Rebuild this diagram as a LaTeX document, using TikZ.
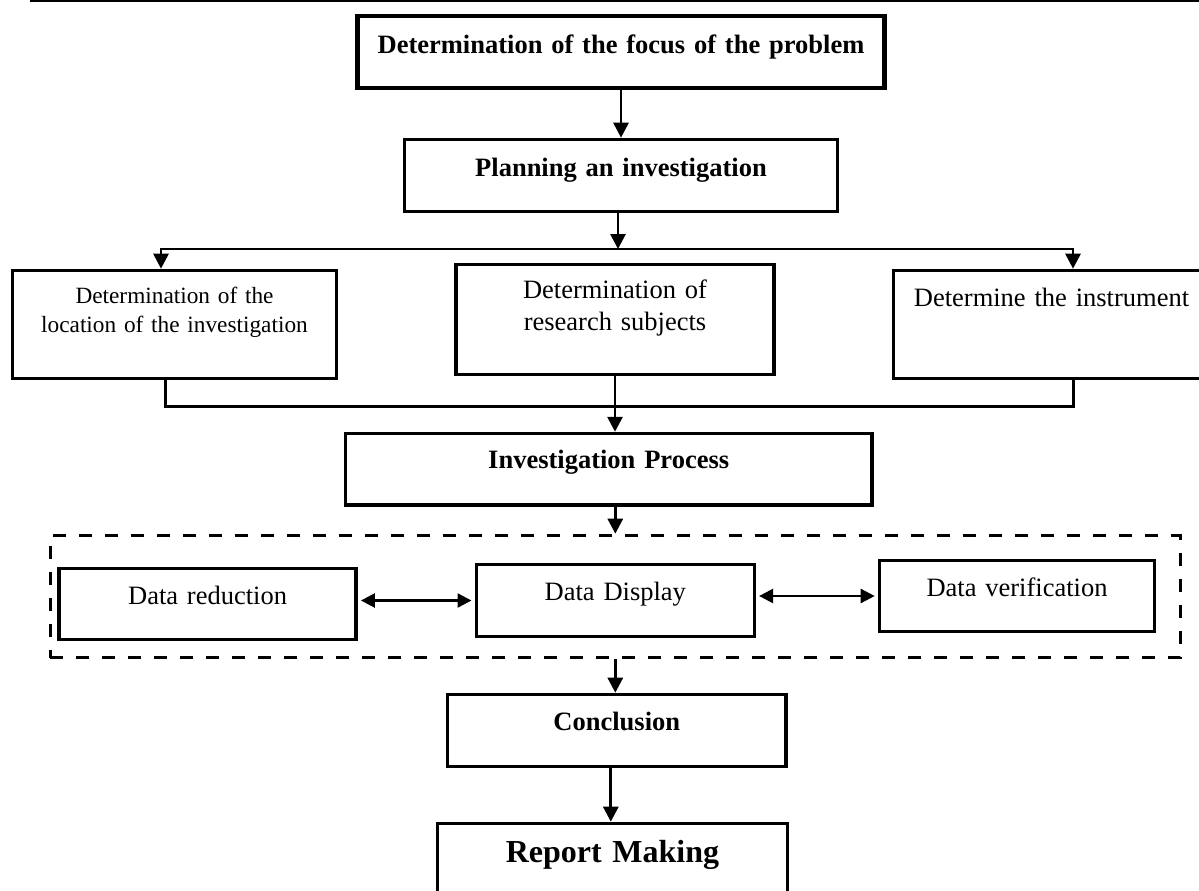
\documentclass[tikz,border=0pt]{standalone}
\usepackage{fontspec}
\setmainfont{Liberation Serif}
\usepackage{tikz}
\usetikzlibrary{arrows.meta}
\usetikzlibrary{shapes.geometric, arrows, positioning}
\usetikzlibrary{calc}
\tikzstyle{arrow} = [line width=2.8pt,-{Triangle[length=15pt,width=15pt]}]
\tikzstyle{dblarrow} = [line width=2.4pt,{Triangle[length=14pt,width=14pt]}-{Triangle[length=14pt,width=14pt]}, shorten <=3pt, shorten >=3pt]
\tikzstyle{link} = [line width=3pt]
\tikzstyle{stage} = [rectangle, draw=black, line width=3.6pt, inner sep=0pt, align=center, font=\fontsize{26.5}{32}\selectfont]
\tikzstyle{bigstage} = [stage, font=\fontsize{26.5}{32}\selectfont\bfseries]
\tikzset{
	groupbox/.style = {rectangle, draw=black, line width=3.6pt,
		dash pattern=on 13pt off 13pt, inner sep=0pt}
}

\begin{document}
\begin{tikzpicture}[x=1pt, y=-1pt]
\useasboundingbox (0,0) rectangle (1199,891);
% page rule
\draw [line width=2.4pt] (30,1) -- (1199,1);
%----------------------------------------------------------------------------
% Placement of flowchart nodes
\node (focus) [bigstage, line width=4.4pt, text width=527pt, text height=37pt, text depth=35pt] at (621,52)
{Determination of the focus of the problem};

\node (plan) [bigstage, below of = focus, node distance = 123.5pt, text width=433pt, text height=36.5pt, text depth=35.5pt]
{Planning an investigation};

\node (subj) [stage, below of = plan, node distance = 144pt, xshift=-6pt, text width=318pt, text height=33.5pt, text depth=76.5pt]
{Determination of\\research subjects};

\node (locat) [stage, left of = subj, node distance = 440.5pt, yshift=-5pt, text width=324pt, text height=32.5pt, text depth=75.5pt, font=\fontsize{23.3}{29.5}\selectfont]
{Determination of the\\location of the investigation};

\node (instr) [stage, right of = subj, node distance = 436.5pt, yshift=-5pt, text width=316pt, text height=35.5pt, text depth=72.5pt]
{Determine the instrument};

\node (invest) [bigstage, below of = subj, node distance = 149.8pt, xshift=-6.3pt, text width=526.5pt, text height=34.5pt, text depth=37pt]
{Investigation Process};

\node (display) [stage, below of = invest, node distance = 131.2pt, xshift=6.6pt, text width=278pt, text height=35.5pt, text depth=36.5pt]
{Data Display};

\node (reduc) [stage, left of = display, node distance = 407.7pt, yshift=-3.5pt, text width=297pt, text height=35.5pt, text depth=35.5pt]
{Data reduction};

\node (verif) [stage, right of = display, node distance = 401.7pt, yshift=4.5pt, text width=275pt, text height=35.5pt, text depth=35.5pt]
{Data verification};

\node (dataGroup) [groupbox, minimum width=1130pt, minimum height=122pt] at ([yshift=4pt]display.center) {};

\node (concl) [bigstage, below of = display, node distance = 130pt, xshift=1.5pt, text width=338.7pt, text height=35.5pt, text depth=36.5pt]
{Conclusion};

\node (report) [bigstage, below of = concl, node distance = 131.25pt, xshift=-4.3pt, text width=350pt, text height=39.2pt, text depth=37.3pt, font=\fontsize{32}{38}\selectfont\bfseries]
{Report Making};

%----------------------------------------------------------------------------
% Drawing of Lines of main chart
\coordinate (split) at (618,249);
\coordinate (splitL) at (161,249);
\coordinate (splitR) at (1073,249);
\coordinate (joinL) at (165,406);
\coordinate (joinR) at (1073,406);

\draw [arrow] (focus) -- (plan);
\draw [arrow] (plan.south -| split) -- (split);
\draw [arrow] (split) -| (splitL |- locat.north);
\draw [arrow] (split) -| (splitR |- instr.north);

\draw [link] (joinL |- locat.south) -- (joinL) -- (joinR) -- (joinR |- instr.south);
\draw [arrow] (subj.south) -- (subj.south |- invest.north);

\draw [arrow] (invest.south -| dataGroup.north) -- (dataGroup.north);
\draw [arrow] (dataGroup.south) -- (dataGroup.south |- concl.north);
\draw [arrow] ([xshift=-6pt]concl.south) -- ([xshift=-6pt]concl.south |- report.north);

% two way links inside the group
\draw [dblarrow] (reduc.east |- display) -- (display.west);
\draw [dblarrow] (display.east |- verif) -- (verif.west);
\end{tikzpicture}
\end{document}
